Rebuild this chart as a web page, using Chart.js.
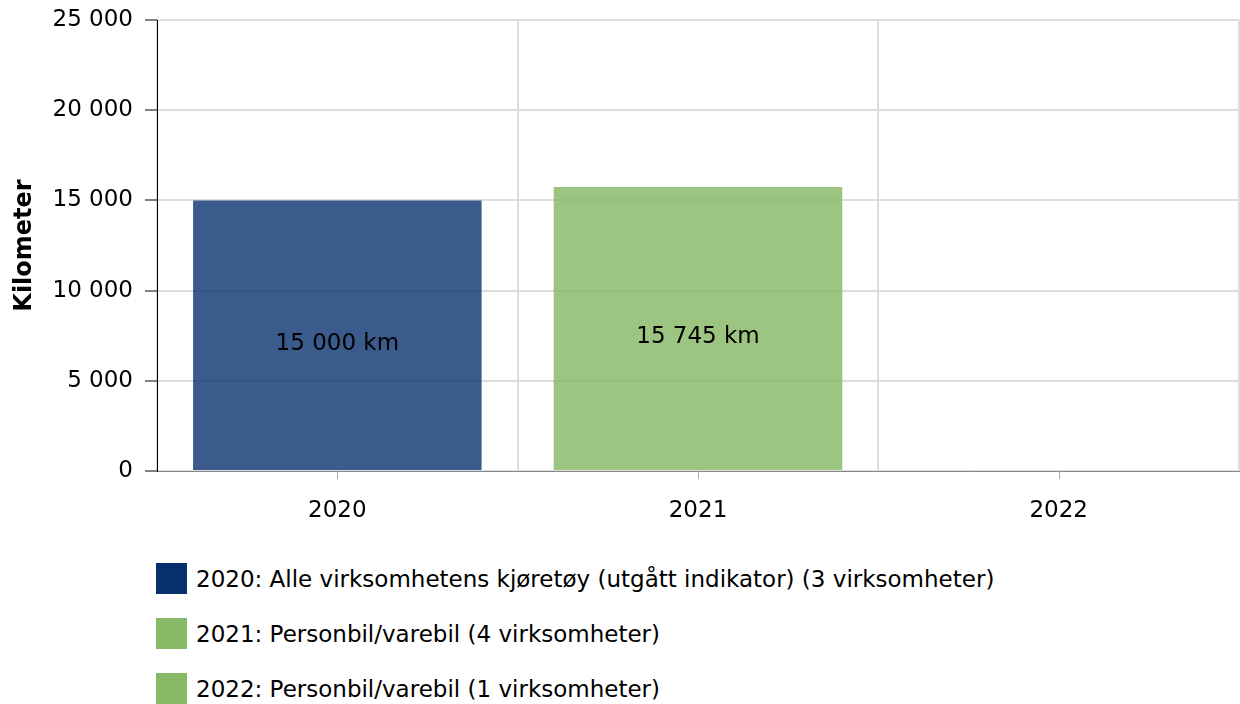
<!DOCTYPE html>
<html>
<head>
<meta charset="utf-8">
<script src="https://cdn.jsdelivr.net/npm/chart.js@4/dist/chart.umd.min.js"></script>
<style>
  body { margin: 0; background: #fff; font-family: "DejaVu Sans", Verdana, sans-serif; }
  .wrap { position: relative; width: 1240px; height: 704px; }
  .canvas-wrapper { position: absolute; left: 0; top: 0; width: 1240px; height: 540px; }
  #legend { position: absolute; left: 156px; top: 563px; }
  .item { display: flex; align-items: center; height: 31px; margin-bottom: 24px; font-size: 23px; color: #000; }
  .box { width: 31px; height: 31px; margin-right: 9px; }
</style>
</head>
<body>
<div class="wrap">
  <div class="canvas-wrapper"><canvas id="barchart"></canvas></div>
  <div id="legend"></div>
</div>
<script>
// values
var years = ["2020", "2021", "2022"];
var km = [15000, 15745, null];
var yTicks = [0, 5000, 10000, 15000, 20000, 25000];
var legendLabels = [
  "2020: Alle virksomhetens kjøretøy (utgått indikator) (3 virksomheter)",
  "2021: Personbil/varebil (4 virksomheter)",
  "2022: Personbil/varebil (1 virksomheter)"
];
var legendColors = ["#062f6e", "#86b865", "#86b865"];
var barColors = ["rgba(6,47,110,0.79)", "rgba(134,184,101,0.81)", "rgba(134,184,101,0.81)"];

function fmt(v) {
  return String(v).replace(/\B(?=(\d{3})+(?!\d))/g, " ");
}

var font = "'DejaVu Sans', Verdana, sans-serif";

var barLabels = {
  id: "barLabels",
  afterDatasetsDraw: function (chart) {
    var ctx = chart.ctx;
    var meta = chart.getDatasetMeta(0);
    meta.data.forEach(function (bar, i) {
      if (km[i] == null) return;
      var mid = (bar.y + bar.base) / 2;
      ctx.save();
      ctx.font = "23px " + font;
      ctx.fillStyle = "#000";
      ctx.textAlign = "center";
      ctx.textBaseline = "middle";
      ctx.fillText(fmt(km[i]) + " km", bar.x, mid + 9);
      ctx.restore();
    });
  },
  afterDraw: function (chart) {
    // small tick marks under the category centres
    var ctx = chart.ctx;
    var x = chart.scales.x;
    ctx.save();
    ctx.strokeStyle = "#aaa";
    ctx.lineWidth = 1;
    years.forEach(function (y, i) {
      var px = Math.round(x.getPixelForValue(i)) + 0.5;
      ctx.beginPath();
      ctx.moveTo(px, x.top);
      ctx.lineTo(px, x.top + 8);
      ctx.stroke();
    });
    ctx.restore();
  }
};

var chart = new Chart(document.getElementById("barchart"), {
  type: "bar",
  data: {
    labels: years,
    datasets: [{
      data: km,
      backgroundColor: barColors,
      barPercentage: 0.8,
      categoryPercentage: 1
    }]
  },
  options: {
    responsive: true,
    maintainAspectRatio: false,
    animation: false,
    layout: { padding: { top: 0, right: 1, left: 0, bottom: 0 } },
    plugins: {
      legend: { display: false },
      tooltip: { enabled: false }
    },
    scales: {
      x: {
        afterFit: function (s) { s.height = 69; },
        grid: { color: "#dcdcdc", lineWidth: 2, offset: true, drawTicks: false },
        border: { color: "#888", width: 1 },
        ticks: { color: "#000", padding: 26, font: { family: font, size: 23 } }
      },
      y: {
        min: 0,
        max: 25000,
        afterFit: function (s) {
          s.width = 157;
          s.paddingTop = 20;
          s.paddingBottom = 0;
        },
        afterBuildTicks: function (s) {
          s.ticks = yTicks.map(function (v) { return { value: v }; });
        },
        title: {
          display: true,
          text: "Kilometer",
          color: "#000",
          font: { family: font, size: 24, weight: "bold" },
          padding: { top: 10, bottom: 0 }
        },
        grid: { color: "#dcdcdc", lineWidth: 2, tickColor: "#000", tickLength: 12, tickWidth: 1 },
        border: { color: "#000", width: 1 },
        ticks: {
          color: "#000",
          padding: 12,
          font: { family: font, size: 23 },
          callback: function (v) { return fmt(v); }
        }
      }
    }
  },
  plugins: [barLabels]
});

var legend = document.getElementById("legend");
legendLabels.forEach(function (t, i) {
  var row = document.createElement("div");
  row.className = "item";
  row.innerHTML = "<span class='box' style='background:" + legendColors[i] + "'></span><span>" + t + "</span>";
  legend.appendChild(row);
});
</script>
</body>
</html>
